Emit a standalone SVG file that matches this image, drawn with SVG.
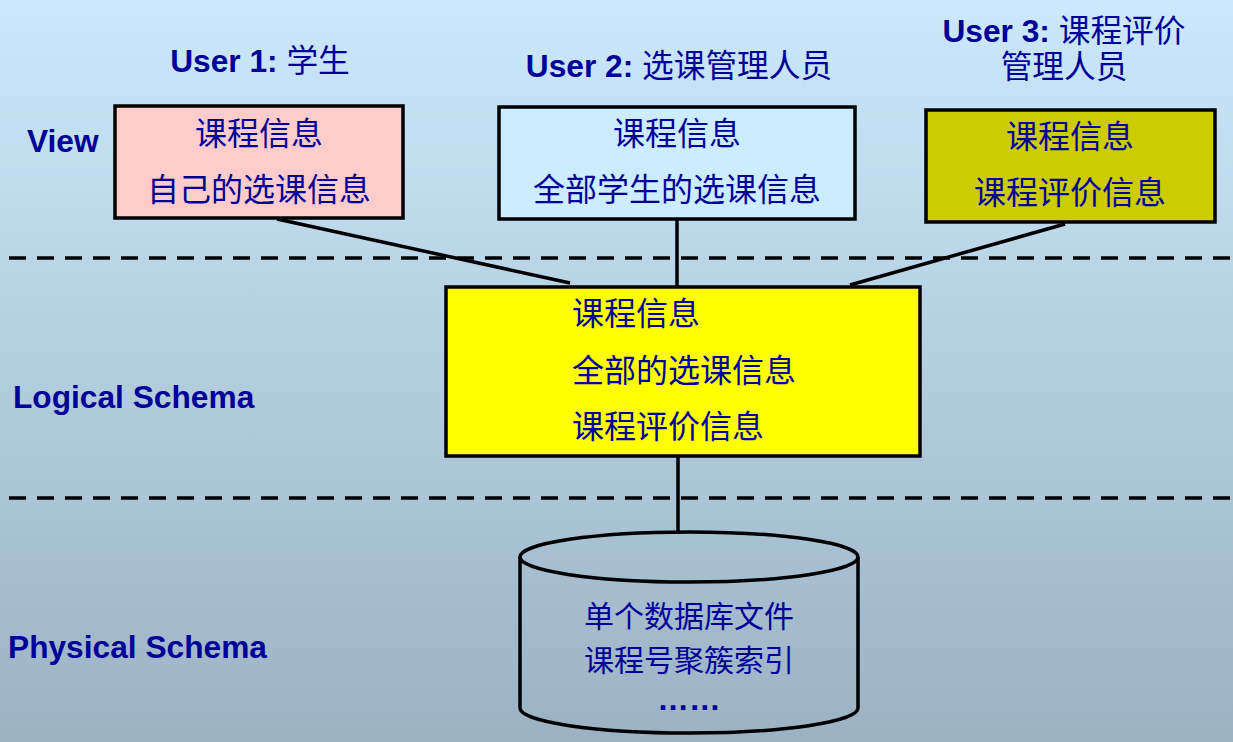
<svg xmlns="http://www.w3.org/2000/svg" width="1233" height="742" viewBox="0 0 1233 742">
<defs>
<linearGradient id="bg" x1="0" y1="0" x2="0" y2="1">
<stop offset="0" stop-color="#CBE9FB"/>
<stop offset="1" stop-color="#9BB2C3"/>
</linearGradient>
<style>
.t{font-family:"Liberation Sans","Noto Sans CJK SC",sans-serif;font-size:31.7px;fill:#000099}
.b{font-weight:bold}
.c{font-family:"Noto Sans CJK SC",sans-serif;font-size:32px;fill:#000099}
.s{font-size:30px}
.box{stroke:#000;stroke-width:3.5}
.ln{stroke:#000;stroke-width:3.5;fill:none}
.dash{stroke:#000;stroke-width:3.5;stroke-dasharray:17 11;fill:none}
</style>
</defs>
<rect width="1233" height="742" fill="url(#bg)"/>
<g id="separators">
<line class="dash" x1="9" y1="258" x2="1233" y2="258"/>
<line class="dash" x1="9" y1="498" x2="1233" y2="498"/>
</g>
<g id="layer-labels">
<text class="t b" x="27" y="152">View</text>
<text class="t b" x="13" y="408">Logical Schema</text>
<text class="t b" x="8" y="658">Physical Schema</text>
</g>
<g id="user-labels">
<text class="t" x="260" y="72" text-anchor="middle"><tspan class="b">User 1:</tspan> 学生</text>
<text class="t" x="679" y="77" text-anchor="middle"><tspan class="b">User 2:</tspan> 选课管理人员</text>
<text class="t" x="1064" y="42" text-anchor="middle"><tspan class="b">User 3:</tspan> 课程评价</text>
<text class="t" x="1064" y="78" text-anchor="middle">管理人员</text>
</g>
<g id="connectors">
<line class="ln" x1="277" y1="219" x2="570" y2="283"/>
<line class="ln" x1="677" y1="219" x2="677" y2="286"/>
<line class="ln" x1="1065" y1="224" x2="850" y2="285"/>
<line class="ln" x1="678" y1="456" x2="678" y2="532"/>
</g>
<g id="view1">
<rect class="box" x="115" y="106" width="288" height="112" fill="#FFCCCC"/>
<text class="c" x="259" y="145" text-anchor="middle">课程信息</text>
<text class="c" x="259" y="201" text-anchor="middle">自己的选课信息</text>
</g>
<g id="view2">
<rect class="box" x="499" y="107" width="356" height="112" fill="#CCECFF"/>
<text class="c" x="677" y="145" text-anchor="middle">课程信息</text>
<text class="c" x="677" y="201" text-anchor="middle">全部学生的选课信息</text>
</g>
<g id="view3">
<rect class="box" x="926" y="110" width="289" height="112" fill="#CCCC00"/>
<text class="c" x="1070" y="148" text-anchor="middle">课程信息</text>
<text class="c" x="1070" y="204" text-anchor="middle">课程评价信息</text>
</g>
<g id="logical">
<rect class="box" x="446" y="287" width="474" height="169" fill="#FFFF00"/>
<text class="c" x="572" y="325">课程信息</text>
<text class="c" x="572" y="382">全部的选课信息</text>
<text class="c" x="572" y="438">课程评价信息</text>
</g>
<g id="physical">
<path class="ln" d="M520,557 L520,708 A169,25 0 0 0 858,708 L858,557"/>
<ellipse class="ln" cx="689" cy="557" rx="169" ry="25"/>
<text class="c s" x="689" y="627" text-anchor="middle">单个数据库文件</text>
<text class="c s" x="689" y="671" text-anchor="middle">课程号聚簇索引</text>
<text class="t b" x="689" y="710" text-anchor="middle">……</text>
</g>
</svg>
